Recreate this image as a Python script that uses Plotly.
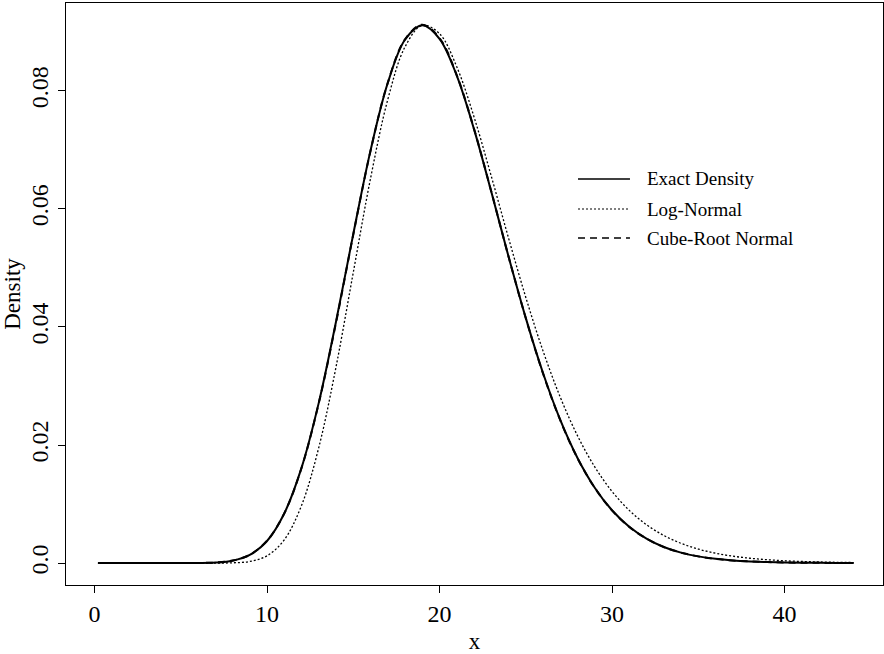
import plotly.graph_objects as go

# ---- data ----
x_vals = [0.2, 2, 4, 5, 6, 7, 8, 9, 10, 11, 12, 13, 14, 15, 16, 17, 18, 19, 20,
          21, 22, 23, 24, 25, 26, 27, 28, 29, 30, 31, 32, 33, 34, 35, 36, 37, 38,
          39, 40, 41, 42, 43, 44]

exact_density = [0, 0, 0, 0.000001, 0.000012, 0.000085, 0.000397, 0.00137, 0.00373,
                 0.00840, 0.01613, 0.02714, 0.04090, 0.05573, 0.06989, 0.08135,
                 0.08867, 0.09112, 0.08883, 0.08260, 0.07353, 0.06294, 0.05196,
                 0.04154, 0.03220, 0.02426, 0.01781, 0.01277, 0.00894, 0.00614,
                 0.00413, 0.00272, 0.00177, 0.00113, 0.00071, 0.00044, 0.00027,
                 0.00016, 0.000096, 0.000056, 0.000033, 0.000019, 0.000011]

log_normal = [0, 0, 0, 0, 0.0000001, 0.000003, 0.000039, 0.000272, 0.001227,
              0.003939, 0.009741, 0.019556, 0.03321, 0.049214, 0.065147, 0.07852,
              0.087456, 0.091122, 0.089703, 0.08409, 0.075612, 0.065566, 0.055093,
              0.045044, 0.035957, 0.028113, 0.021578, 0.0163, 0.01214, 0.008928,
              0.006493, 0.004677, 0.00334, 0.002369, 0.001668, 0.001167, 0.000814,
              0.000564, 0.00039, 0.000268, 0.000184, 0.000126, 0.0000862]

cube_root_normal = [0, 0, 0, 0.000001, 0.000013, 0.000090, 0.000418, 0.00139, 0.003769,
                    0.00842, 0.016107, 0.027081, 0.04073, 0.055638, 0.069834, 0.081366,
                    0.088738, 0.09123, 0.088957, 0.082681, 0.07359, 0.06297, 0.051965,
                    0.04152, 0.032139, 0.02420, 0.017768, 0.01274, 0.008921, 0.00613,
                    0.00413, 0.00272, 0.001771, 0.00113, 0.00071, 0.00044, 0.00027,
                    0.00016, 0.000096, 0.000056, 0.000033, 0.000019, 0.000011]

legend_labels = ["Exact Density", "Log-Normal", "Cube-Root Normal"]
x_ticks = [0, 10, 20, 30, 40]
x_tick_text = ["0", "10", "20", "30", "40"]
y_ticks = [0.0, 0.02, 0.04, 0.06, 0.08]
y_tick_text = ["0.0", "0.02", "0.04", "0.06", "0.08"]

FONT = "Liberation Serif, Times New Roman, serif"

fig = go.Figure()
fig.add_trace(go.Scatter(x=x_vals, y=exact_density, mode="lines",
                         line=dict(color="black", width=2.0, shape="spline"),
                         name=legend_labels[0], showlegend=False))
fig.add_trace(go.Scatter(x=x_vals, y=log_normal, mode="lines",
                         line=dict(color="black", width=1.3, dash="2px,2px", shape="spline"),
                         name=legend_labels[1], showlegend=False))
fig.add_trace(go.Scatter(x=x_vals, y=cube_root_normal, mode="lines",
                         line=dict(color="black", width=2.0, dash="7px,5px", shape="spline"),
                         name=legend_labels[2], showlegend=False))

# custom legend (R style, no box)
styles = [dict(width=1.3, dash="solid"), dict(width=1.1, dash="2px,2px"), dict(width=1.5, dash="7px,5px")]
rows_y = [0.6976, 0.6460, 0.5962]
for lab, st, yy in zip(legend_labels, styles, rows_y):
    fig.add_shape(type="line", xref="paper", yref="paper", x0=0.6267, x1=0.6903,
                  y0=yy, y1=yy, line=dict(color="black", width=st["width"], dash=st["dash"]))
    fig.add_annotation(xref="paper", yref="paper", x=0.709, y=yy, text=lab,
                       showarrow=False, xanchor="left", yanchor="middle",
                       font=dict(family=FONT, size=19, color="black"))

axis_common = dict(showline=True, linecolor="black", linewidth=1.3, mirror=True,
                   ticks="outside", ticklen=7, tickwidth=1, tickcolor="black",
                   showgrid=False, zeroline=False,
                   tickfont=dict(family=FONT, size=24, color="black"))

fig.update_layout(
    width=884, height=654,
    margin=dict(l=66, r=1, t=3, b=69),
    paper_bgcolor="white", plot_bgcolor="white",
    xaxis=dict(range=[-1.652, 45.71], tickvals=x_ticks, ticktext=x_tick_text,
               title=dict(text="x", font=dict(family=FONT, size=23, color="black"), standoff=6),
               **axis_common),
    yaxis=dict(range=[-0.00372, 0.0949], tickvals=y_ticks, ticktext=y_tick_text,
               tickangle=-90,
               title=dict(text="Density", font=dict(family=FONT, size=23, color="black"), standoff=2),
               **axis_common),
)

fig.write_html("out.html")
